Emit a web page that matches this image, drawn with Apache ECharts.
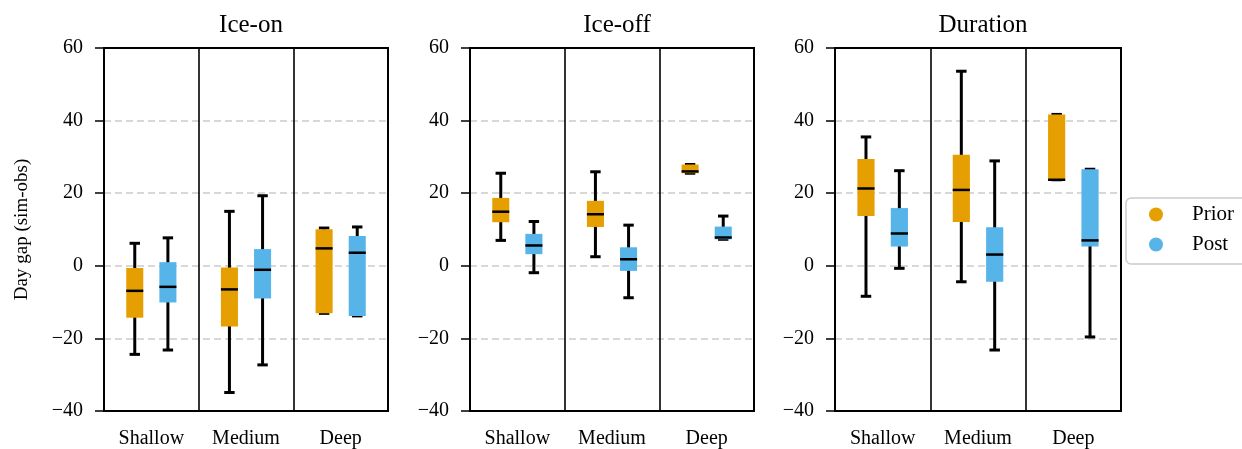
<!DOCTYPE html>
<html>
<head>
<meta charset="utf-8">
<script src="https://cdn.jsdelivr.net/npm/echarts@6/dist/echarts.min.js"></script>
<style>html,body{margin:0;padding:0;background:#fff}#c{width:1242px;height:449px}</style>
</head>
<body>
<div id="c"></div>
<script>
// ---- Data ----
const categories = ['Shallow', 'Medium', 'Deep'];
const panelTitles = ['Ice-on', 'Ice-off', 'Duration'];
const seriesNames = ['Prior', 'Post'];
const yTicks = [-40, -20, 0, 20, 40, 60];
// each row: [min, q1, median, q3, max] per category
const iceOnPrior  = [[-24.4, -14.3, -6.9, -0.6, 6.2], [-34.9, -16.7, -6.5, -0.5, 15.0], [-13.1, -13.1, 4.8, 10.1, 10.4]];
const iceOnPost   = [[-23.2, -10.1, -5.8, 1.0, 7.7], [-27.3, -9.0, -1.1, 4.6, 19.3], [-13.8, -13.8, 3.6, 8.2, 10.7]];
const iceOffPrior = [[7.0, 12.0, 14.9, 18.7, 25.5], [2.5, 10.7, 14.2, 17.9, 25.9], [25.5, 25.5, 26.0, 27.9, 27.9]];
const iceOffPost  = [[-1.9, 3.2, 5.6, 8.8, 12.2], [-8.8, -1.4, 1.8, 5.1, 11.2], [7.3, 7.3, 7.8, 10.8, 13.7]];
const durPrior    = [[-8.4, 13.7, 21.3, 29.4, 35.5], [-4.4, 12.1, 20.9, 30.6, 53.6], [23.7, 23.7, 23.7, 41.7, 41.7]];
const durPost     = [[-0.7, 5.3, 8.9, 15.9, 26.2], [-23.2, -4.4, 3.1, 10.6, 28.9], [-19.6, 5.3, 7.0, 26.6, 26.6]];

const panels = [[iceOnPrior, iceOnPost], [iceOffPrior, iceOffPost], [durPrior, durPost]];
const colors = ['#E69F00', '#56B4E9'];
const FONT = 'Liberation Serif';

const gridBoxes = [
  {left: 104, top: 48, width: 284, height: 366},
  {left: 470, top: 48, width: 284, height: 366},
  {left: 835, top: 48, width: 286, height: 366}
];

function makeRender(side) {
  return function (params, api) {
    const cat = api.value(0);
    const band = api.size([1, 0])[0];
    const c0 = api.coord([cat, 0]);
    const cx = c0[0] + side * band * 0.175;
    const hw = band * 0.09;
    const capHw = band * 0.055;
    const y = i => api.coord([cat, api.value(i)])[1];
    const yMin = y(1), yQ1 = y(2), yMed = y(3), yQ3 = y(4), yMax = y(5);
    const col = api.visual('color');
    const ls = {stroke: '#000', lineWidth: 3};
    return {
      type: 'group',
      children: [
        {type: 'line', shape: {x1: cx, y1: yMax, x2: cx, y2: yMin}, style: ls},
        {type: 'line', shape: {x1: cx - capHw, y1: yMax, x2: cx + capHw, y2: yMax}, style: ls},
        {type: 'line', shape: {x1: cx - capHw, y1: yMin, x2: cx + capHw, y2: yMin}, style: ls},
        {type: 'rect', shape: {x: cx - hw, y: yQ3, width: 2 * hw, height: Math.max(yQ1 - yQ3, 0.5)}, style: {fill: col}},
        {type: 'line', shape: {x1: cx - hw, y1: yMed, x2: cx + hw, y2: yMed}, style: {stroke: '#000', lineWidth: 2.5}}
      ]
    };
  };
}

const grid = [], xAxis = [], yAxis = [], series = [], title = [];
panels.forEach((pd, p) => {
  grid.push(Object.assign({show: true, borderColor: '#000', borderWidth: 2, backgroundColor: 'transparent'}, gridBoxes[p]));
  title.push({
    text: panelTitles[p],
    left: gridBoxes[p].left + gridBoxes[p].width / 2,
    textAlign: 'center',
    top: 8,
    textStyle: {fontFamily: FONT, fontSize: 25, fontWeight: 'normal', color: '#000'}
  });
  xAxis.push({
    type: 'category', gridIndex: p, data: categories, boundaryGap: true,
    axisLine: {onZero: false, lineStyle: {color: '#000', width: 2}},
    axisTick: {show: false},
    axisLabel: {fontFamily: FONT, fontSize: 20, color: '#000', margin: 18},
    splitLine: {show: true, lineStyle: {color: '#000', width: 1.6}}
  });
  yAxis.push({
    type: 'value', gridIndex: p, min: yTicks[0], max: yTicks[yTicks.length - 1], interval: 20,
    name: p === 0 ? 'Day gap (sim-obs)' : '',
    nameLocation: 'middle', nameGap: 72,
    nameTextStyle: {fontFamily: FONT, fontSize: 19, color: '#000'},
    axisLine: {show: true, lineStyle: {color: '#000', width: 2}},
    axisTick: {show: true, length: 9, lineStyle: {color: '#000', width: 1.5}},
    axisLabel: {fontFamily: FONT, fontSize: 20, color: '#000', margin: 21,
      formatter: v => String(v).replace('-', '\u2212')},
    splitLine: {show: true, showMinLine: false, showMaxLine: false,
      lineStyle: {color: '#cccccc', width: 1.5, type: [7, 4]}}
  });
  pd.forEach((rows, s) => {
    series.push({
      type: 'custom', name: seriesNames[s], xAxisIndex: p, yAxisIndex: p,
      itemStyle: {color: colors[s]},
      renderItem: makeRender(s === 0 ? -1 : 1),
      encode: {x: 0, y: [1, 2, 3, 4, 5]},
      data: rows.map((r, i) => [i].concat(r))
    });
  });
});

const chart = echarts.init(document.getElementById('c'), null, {renderer: 'canvas'});
chart.setOption({
  animation: false,
  backgroundColor: '#fff',
  title: title,
  legend: {
    data: seriesNames.map(n => ({name: n, icon: 'circle'})),
    orient: 'vertical', left: 1126, top: 198,
    backgroundColor: '#fff',
    borderColor: '#cccccc', borderWidth: 1.5, borderRadius: 5,
    padding: [6, 40, 9, 23],
    itemWidth: 14, itemHeight: 14, itemGap: 9,
    textStyle: {fontFamily: FONT, fontSize: 21, color: '#000', lineHeight: 20, padding: [0, 0, 0, 24]}
  },
  grid: grid, xAxis: xAxis, yAxis: yAxis, series: series
});
</script>
</body>
</html>
